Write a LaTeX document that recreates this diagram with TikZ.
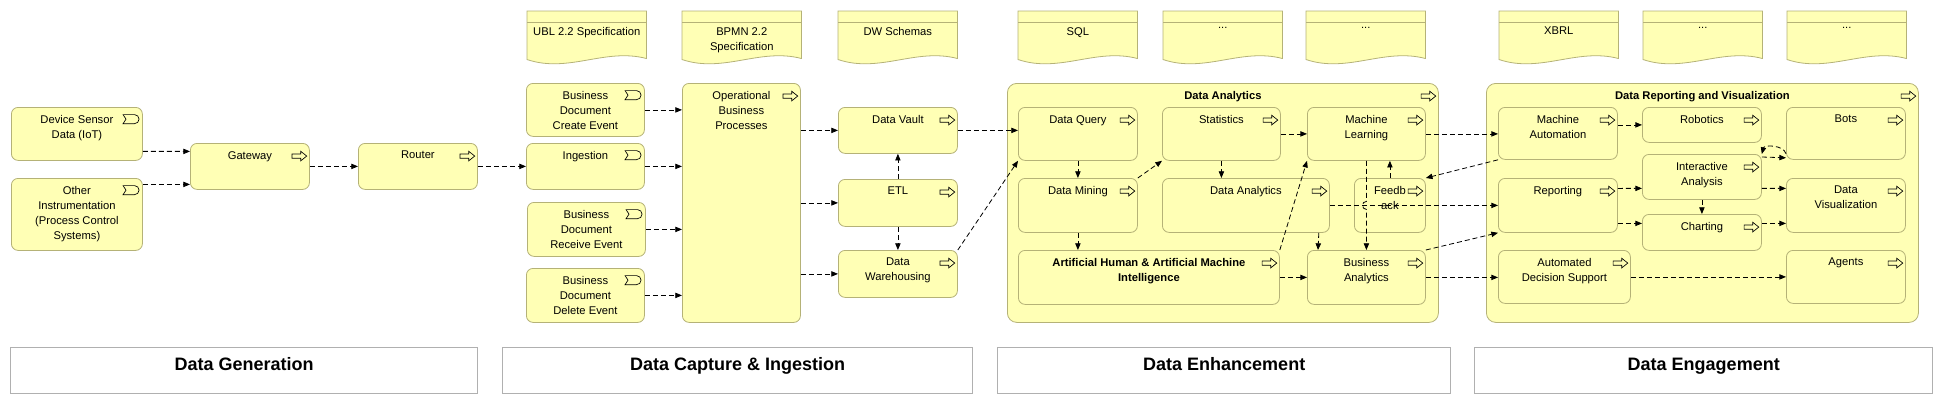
\documentclass[tikz,border=0pt]{standalone}
\usepackage{fontspec}
\setmainfont{Liberation Sans}
\usetikzlibrary{arrows.meta,backgrounds}
\definecolor{elemfill}{HTML}{FFFFB5}
\definecolor{elemline}{HTML}{B5B277}
\definecolor{phaseline}{HTML}{B0B0B0}
\newcommand{\elemfont}{\fontsize{8.4}{11.25}\selectfont}
\begin{document}
\begin{tikzpicture}[x=0.75pt, y=-0.75pt,
        elem/.style 2 args={draw=elemline, fill=elemfill, line width=0.6pt, rounded corners=5pt,
            minimum width=#1*0.75pt, minimum height=#2*0.75pt, anchor=north west, inner sep=0pt},
        proc/.style 2 args={elem={#1}{#2}, path picture={
            \draw[black, line width=0.5pt, sharp corners] ([xshift=-2pt,yshift=-9.5pt]path picture bounding box.north east)
                -- ++(-4.5pt,3.6pt) -- ++(0,-2pt) -- ++(-6.5pt,0) -- ++(0,-3.2pt) -- ++(6.5pt,0) -- ++(0,-2pt) -- cycle;}},
        evt/.style 2 args={elem={#1}{#2}, path picture={
            \draw[black, line width=0.5pt, sharp corners] ([xshift=-2.5pt,yshift=-8.8pt]path picture bounding box.north east)
                arc[start angle=0, end angle=90, radius=3.4pt] -- ++(-8.6pt,0) -- ++(2.2pt,-3.4pt) -- ++(-2.2pt,-3.4pt)
                -- ++(8.6pt,0) arc[start angle=-90, end angle=0, radius=3.4pt];}},
        grp/.style 2 args={proc={#1}{#2}, rounded corners=7pt},
        txt/.style={anchor=north, align=center, font=\elemfont, inner sep=0pt, yshift=-6pt},
        btxt/.style={txt, font=\elemfont\bfseries},
        doctxt/.style={anchor=north, align=center, font=\elemfont, inner sep=0pt, yshift=-12pt},
        doc/.style={minimum width=119*0.75pt, minimum height=48*0.75pt, anchor=north west, inner sep=0pt},
        docline/.style={draw=elemline, fill=elemfill, line width=0.6pt},
        phase/.style={draw=phaseline, line width=1.1pt, fill=white, minimum width=#1*0.75pt,
            minimum height=46*0.75pt, anchor=north west, inner sep=0pt},
        phasetxt/.style={anchor=north, font=\fontsize{13.5}{16}\selectfont\bfseries, inner sep=0pt, yshift=-8pt},
        flow/.style={draw, line width=0.6pt, dash pattern=on 3.75pt off 2.25pt, -{Triangle[length=5pt,width=4pt]}}
    ]
    \useasboundingbox (0,0) rectangle (1940,404);

    % phases
    \node[phase=467, label={[phasetxt]north:Data Generation}] (pgen) at (10,347) {};
    \node[phase=470, label={[phasetxt]north:Data Capture \& Ingestion}] (pcap) at (502,347) {};
    \node[phase=453, label={[phasetxt]north:Data Enhancement}] (penh) at (997,347) {};
    \node[phase=458, label={[phasetxt]north:Data Engagement}] (peng) at (1474,347) {};

    % representations
    \node[doc, label={[doctxt]north:UBL 2.2 Specification}] (ubl) at (527,11) {};
    \node[doc, label={[doctxt]north:BPMN 2.2\\Specification}] (bpmn) at (682,11) {};
    \node[doc, label={[doctxt]north:DW Schemas}] (dws) at (838,11) {};
    \node[doc, label={[doctxt]north:SQL}] (sql) at (1018,11) {};
    \node[doc, label={[doctxt]north:...}] (etca) at (1163,11) {};
    \node[doc, label={[doctxt]north:...}] (etcb) at (1306,11) {};
    \node[doc, label={[doctxt]north:XBRL}] (xbrl) at (1499,11) {};
    \node[doc, label={[doctxt]north:...}] (etcc) at (1643,11) {};
    \node[doc, label={[doctxt]north:...}] (etcd) at (1787,11) {};
    \begin{scope}[on background layer]
        \foreach \d in {ubl,bpmn,dws,sql,etca,etcb,xbrl,etcc,etcd} {
            \draw[docline] (\d.south west) |- (\d.north east) -- ([yshift=0.75pt]\d.south east)
                .. controls +(-41.65,-11) and +(41.65,14) .. (\d.south west) -- cycle;
            \draw[docline] ([yshift=-8.25pt]\d.north west) -- ([yshift=-8.25pt]\d.north east);
        }
    \end{scope}

    % groups
    \node[grp={431}{239}, label={[btxt]north:Data Analytics}] (grpda) at (1007,83) {};
    \node[grp={432}{239}, label={[btxt]north:Data Reporting and Visualization}] (grpdr) at (1486,83) {};

    % data generation
    \node[evt={131}{53}, label={[txt]north:Device Sensor\\Data (IoT)}] (dev) at (11,107) {};
    \node[evt={131}{72}, label={[txt]north:Other\\Instrumentation\\(Process Control\\Systems)}] (oth) at (11,178) {};
    \node[proc={119}{46}, label={[txt]north:Gateway}] (gw) at (190,143) {};
    \node[proc={119}{46}, label={[txt]north:Router}] (rtr) at (358,143) {};

    % data capture
    \node[evt={118}{53}, label={[txt]north:Business\\Document\\Create Event}] (bdc) at (526,83) {};
    \node[evt={118}{46}, label={[txt]north:Ingestion}] (ing) at (526,143) {};
    \node[evt={118}{54}, label={[txt]north:Business\\Document\\Receive Event}] (bdr) at (527,202) {};
    \node[evt={118}{54}, label={[txt]north:Business\\Document\\Delete Event}] (bdd) at (526,268) {};
    \node[proc={118}{239}, label={[txt]north:Operational\\Business\\Processes}] (obp) at (682,83) {};
    \node[proc={119}{46}, label={[txt]north:Data Vault}] (dv) at (838,107) {};
    \node[proc={119}{47}, label={[txt]north:ETL}] (etl) at (838,179) {};
    \node[proc={119}{47}, label={[txt]north:Data\\Warehousing}] (dwh) at (838,250) {};

    % data enhancement
    \node[proc={119}{53}, label={[txt]north:Data Query}] (dq) at (1018,107) {};
    \node[proc={118}{53}, label={[txt]north:Statistics}] (st) at (1162,107) {};
    \node[proc={118}{53}, label={[txt]north:Machine\\Learning}] (ml) at (1307,107) {};
    \node[proc={119}{54}, label={[txt]north:Data Mining}] (dm) at (1018,178) {};
    \node[proc={167}{54}, label={[txt]north:Data Analytics}] (da) at (1162,178) {};
    \node[proc={71}{54}, label={[txt]north:Feedb\\ack}] (fb) at (1354,178) {};
    \node[proc={261}{54}, label={[btxt]north:Artificial Human \& Artificial Machine\\Intelligence}] (ai) at (1018,250) {};
    \node[proc={118}{54}, label={[txt]north:Business\\Analytics}] (ba) at (1307,250) {};

    % data engagement
    \node[proc={119}{52}, label={[txt]north:Machine\\Automation}] (ma) at (1498,107) {};
    \node[proc={119}{35}, label={[txt]north:Robotics}] (rob) at (1642,107) {};
    \node[proc={119}{52}, label={[txt]north:Bots}] (bots) at (1786,107) {};
    \node[proc={119}{45}, label={[txt]north:Interactive\\Analysis}] (ia) at (1642,154) {};
    \node[proc={119}{36}, label={[txt]north:Charting}] (cht) at (1642,214) {};
    \node[proc={119}{54}, label={[txt]north:Reporting}] (rep) at (1498,178) {};
    \node[proc={119}{54}, label={[txt]north:Data\\Visualization}] (dvis) at (1786,178) {};
    \node[proc={132}{53}, label={[txt]north:Automated\\Decision Support}] (ads) at (1498,250) {};
    \node[proc={119}{53}, label={[txt]north:Agents}] (agt) at (1786,250) {};

    % flows
    \draw[flow] ([yshift=-13.1pt]dev.east) -- ([yshift=11.25pt]gw.west);
    \draw[flow] ([yshift=22.5pt]oth.east) -- ([yshift=-13.5pt]gw.west);
    \draw[flow] (gw.east) -- (rtr.west);
    \draw[flow] (rtr.east) -- (ing.west);
    \draw[flow] (bdc.east) -- (bdc.east -| obp.west);
    \draw[flow] (ing.east) -- (ing.east -| obp.west);
    \draw[flow] (bdr.east) -- (bdr.east -| obp.west);
    \draw[flow] (bdd.east) -- (bdd.east -| obp.west);
    \draw[flow] (obp.east |- dv.west) -- (dv.west);
    \draw[flow] (obp.east |- etl.west) -- (etl.west);
    \draw[flow] (obp.east |- dwh.west) -- (dwh.west);
    \draw[flow] (etl.north) -- (dv.south);
    \draw[flow] (etl.south) -- (dwh.north);
    \draw[flow] (dv.east) -- (dv.east -| dq.west);
    \draw[flow] (dwh.north east) -- (dq.south west);
    \draw[flow] (dq.south) -- (dm.north);
    \draw[flow] (dm.north east) -- (st.south west);
    \draw[flow] (st.south) -- (st.south |- da.north);
    \draw[flow] (st.east) -- (ml.west);
    \draw[flow] (dm.south) -- (dm.south |- ai.north);
    \draw[flow] (ai.north east) -- (ml.south west);
    \draw[flow] (ai.east) -- (ba.west);
    \draw[flow] ([xshift=-8.25pt]da.south east) -- ([xshift=8.25pt]ba.north west);
    \coordinate (hop) at (ml.south |- da.east);
    \draw[flow] (ml.south) -- ([yshift=3pt]hop) arc[start angle=90, end angle=270, radius=3pt] -- (ba.north);
    \draw[flow] (fb.north) -- (fb.north |- ml.south);
    \draw[flow] (ml.east) -- (ml.east -| ma.west);
    \draw[flow] (ma.south west) -- (fb.north east);
    \draw[flow] (da.east) -- (rep.west);
    \draw[flow] (ba.north east) -- (rep.south west);
    \draw[flow] (ba.east) -- (ba.east -| ads.west);
    \draw[flow] (ma.east |- rob.west) -- (rob.west);
    \draw[flow] ([yshift=12.75pt]rep.east) -- ([yshift=-8.6pt]ia.west);
    \draw[flow] ([yshift=-13.5pt]rep.east) -- ([yshift=6.75pt]cht.west);
    \draw[flow] ([yshift=-8.6pt]ia.east) -- ([yshift=12.75pt]dvis.west);
    \draw[flow] ([yshift=6.75pt]cht.east) -- ([yshift=-13.5pt]dvis.west);
    \draw[flow] (ia.south) -- (cht.north);
    \draw[flow] ([yshift=-2.25pt]ia.north east) -- ([yshift=1.5pt]bots.south west);
    \draw[flow] ([yshift=4.5pt]bots.south west) to[bend right=75] (ia.north east);
    \draw[flow] (ads.east) -- (ads.east -| agt.west);
\end{tikzpicture}
\end{document}
